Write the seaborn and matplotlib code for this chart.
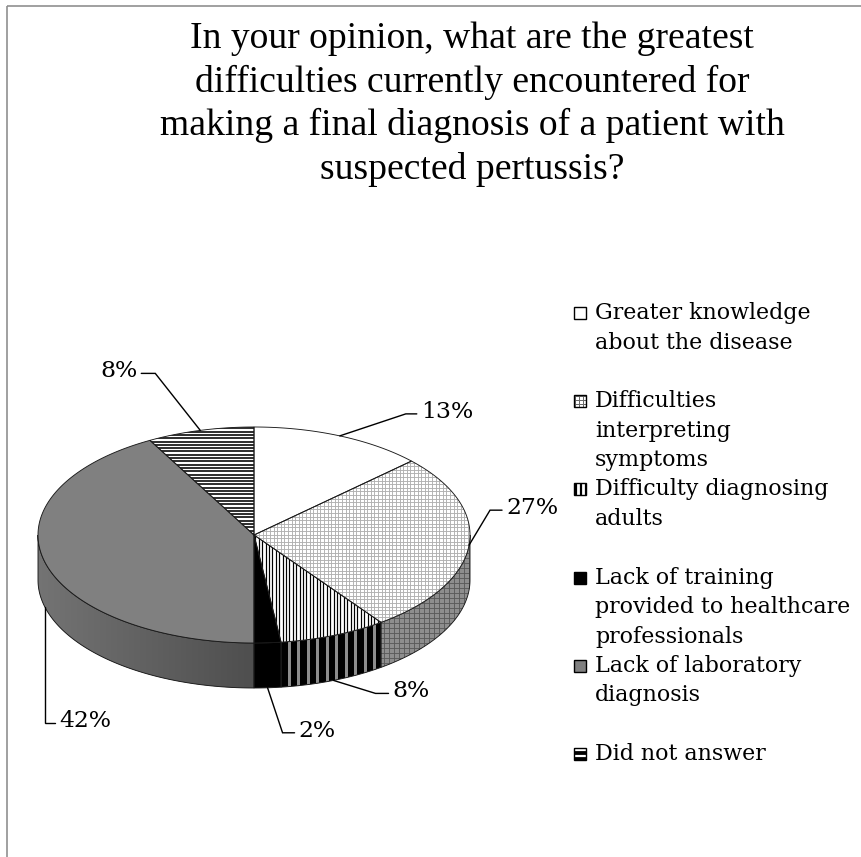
import numpy as np
import matplotlib
matplotlib.use("Agg")
import matplotlib.pyplot as plt
import seaborn as sns
from matplotlib.patches import Polygon, Rectangle
from matplotlib.collections import LineCollection
from matplotlib.colors import LinearSegmentedColormap

# ---------------- data ----------------
title_lines = ["In your opinion, what are the greatest",
               "difficulties currently encountered for",
               "making a final diagnosis of a patient with",
               "suspected pertussis?"]
categories = ["Greater knowledge about the disease",
              "Difficulties interpreting symptoms",
              "Difficulty diagnosing adults",
              "Lack of training provided to healthcare professionals",
              "Lack of laboratory diagnosis",
              "Did not answer"]
legend_lines = [["Greater knowledge", "about the disease"],
                ["Difficulties", "interpreting", "symptoms"],
                ["Difficulty diagnosing", "adults"],
                ["Lack of training", "provided to healthcare", "professionals"],
                ["Lack of laboratory", "diagnosis"],
                ["Did not answer"]]
shares = [13, 27, 8, 2, 42, 8]
pct_labels = [f"{v}%" for v in shares]

# ---------------- styles ----------------
# (kind, base colour, line colour, spacing px, line width px)
top_style = [("solid", "#ffffff", None, 0, 0),
             ("grid", "#ffffff", "#b0b0b0", 3.6, 0.9),
             ("v", "#ffffff", "#000000", 3.4, 1.2),
             ("solid", "#000000", None, 0, 0),
             ("solid", "#808080", None, 0, 0),
             ("h", "#ffffff", "#000000", 3.3, 1.6)]
side_style = [("solid", "#ffffff", None, 0, 0),
              ("grid", "#8e8e8e", "#5a5a5a", 5.0, 0.9),
              ("v", "#000000", "#8c8c8c", 9.5, 3.0),
              ("solid", "#000000", None, 0, 0),
              ("grad", "#747474", "#4e4e4e", 0, 0),
              ("h", "#ffffff", "#000000", 3.3, 1.6)]
legend_style = [("solid", "#ffffff", None, 0, 0),
                ("grid", "#ffffff", "#6a6a6a", 4.0, 1.0),
                ("v", "#ffffff", "#000000", 5.0, 2.2),
                ("solid", "#000000", None, 0, 0),
                ("solid", "#808080", None, 0, 0),
                ("h", "#000000", "#ffffff", 6.0, 2.2)]

# leader layout: anchor on top edge / bottom of side, elbow offset, horizontal run
leader_layout = [("top", 66, -22, 11),
                 ("top", 21, -35, 12),
                 ("bottom", 42, 13, 13),
                 ("bottom", 15, 45, 12),
                 ("bottom", 0, 116, 10),
                 ("top", -45, -57, -14)]

sns.set_theme(style="white")
plt.rcParams['font.family'] = ['DejaVu Serif', 'DejaVu Sans']

W, H, DPI = 861, 857, 100
PX = 72.0 / DPI
fig = plt.figure(figsize=(W / DPI, H / DPI), dpi=DPI)
ax = fig.add_axes([0, 0, 1, 1])
ax.set_xlim(0, W)
ax.set_ylim(H, 0)
ax.axis('off')

# chart frame (left and top visible)
ax.plot([6.5, 6.5], [5.5, H], color="#8c8c8c", lw=1.6 * PX, solid_capstyle='butt')
ax.plot([6.5, W], [5.5, 5.5], color="#8c8c8c", lw=1.6 * PX, solid_capstyle='butt')

# pie geometry
cx, cy, rx, ry, depth = 254.0, 535.0, 216.0, 108.0, 45.0


def arc(a0, a1, dz=0.0):
    n = max(2, int(abs(a1 - a0) * 1.5) + 2)
    t = np.radians(np.linspace(a0, a1, n))
    return np.column_stack([cx + rx * np.cos(t), cy - ry * np.sin(t) + dz])


def texture(patch, style, z):
    kind, base, line, sp, lw = style
    ext = patch.get_path().vertices
    if isinstance(patch, Rectangle):
        x0, y0 = patch.get_x(), patch.get_y()
        x1, y1 = x0 + patch.get_width(), y0 + patch.get_height()
        x0, y0 = x0 + sp / 2 - 1, y0 + sp / 2 - 1
    else:
        x0, y0 = ext.min(axis=0) - 2
        x1, y1 = ext.max(axis=0) + 2
    if kind == "grad":
        cmap = LinearSegmentedColormap.from_list("g", [base, line])
        im = ax.imshow(np.linspace(0, 1, 256)[None, :], extent=(x0, x1, y1, y0),
                       cmap=cmap, aspect='auto', zorder=z, interpolation='bilinear')
        im.set_clip_path(patch)
        return
    segs = []
    if kind in ("v", "grid"):
        for x in np.arange(x0, x1, sp):
            segs.append([(x, y0 - 5), (x, y1 + 5)])
    if kind in ("h", "grid"):
        for y in np.arange(y0, y1, sp):
            segs.append([(x0 - 5, y), (x1 + 5, y)])
    if segs:
        lc = LineCollection(segs, colors=line, linewidths=lw * PX, zorder=z)
        ax.add_collection(lc)
        lc.set_clip_path(patch)


total = float(sum(shares))
cum = np.concatenate([[0.0], np.cumsum(shares)]) / total
edge_kw = dict(edgecolor="#1a1a1a", linewidth=0.9 * PX)

# side faces (front half only)
for i in range(len(shares)):
    a0 = 90 - 360 * cum[i]
    a1 = 90 - 360 * cum[i + 1]
    hi, lo = min(a0, 0.0), max(a1, -180.0)
    if hi <= lo:
        continue
    topa = arc(hi, lo)
    bot = arc(lo, hi, depth)
    pts = np.vstack([topa, bot])
    st = side_style[i]
    fill = Polygon(pts, closed=True, facecolor=st[1], edgecolor='none', zorder=1)
    ax.add_patch(fill)
    texture(fill, st, 1.5)
    ax.add_patch(Polygon(pts, closed=True, facecolor='none', zorder=2, **edge_kw))

# top faces
for i in range(len(shares)):
    a0 = 90 - 360 * cum[i]
    a1 = 90 - 360 * cum[i + 1]
    pts = np.vstack([[[cx, cy]], arc(a0, a1)])
    st = top_style[i]
    fill = Polygon(pts, closed=True, facecolor=st[1], edgecolor='none', zorder=3)
    ax.add_patch(fill)
    if st[0] != "solid":
        texture(fill, st, 3.5)
    ax.add_patch(Polygon(pts, closed=True, facecolor='none', zorder=4, **edge_kw))

# ---------------- text ----------------
fig.canvas.draw()
renderer = fig.canvas.get_renderer()


def fitted_size(s, target, family, base=20):
    t = ax.text(0, 0, s, fontsize=base, family=family)
    w = t.get_window_extent(renderer).width
    t.remove()
    return base * target / w


title_fs = fitted_size(title_lines[0], 563, ['Liberation Serif', 'DejaVu Serif'])
leg_fs = fitted_size("provided to healthcare", 255, ['DejaVu Serif'])
pct_fs = fitted_size("13%", 52, ['DejaVu Serif'])

for k, line in enumerate(title_lines):
    ax.text(472, 48 + 43.5 * k, line, fontsize=title_fs, ha='center', va='baseline',
            family=['Liberation Serif', 'DejaVu Serif'], color='black')

# legend
for i, lines in enumerate(legend_lines):
    base_y = 319 + 88.2 * i
    sq = Rectangle((574, base_y - 12), 12, 12, facecolor=legend_style[i][1],
                   edgecolor='none', zorder=5)
    ax.add_patch(sq)
    if legend_style[i][0] != "solid":
        texture(sq, legend_style[i], 5.5)
    ax.add_patch(Rectangle((574, base_y - 12), 12, 12, facecolor='none',
                           edgecolor='black', linewidth=1.4 * PX, zorder=6))
    for j, ln in enumerate(lines):
        ax.text(595, base_y + 29.5 * j, ln, fontsize=leg_fs, ha='left', va='baseline',
                color='black')

# percentage labels with leader lines
for i, lab in enumerate(pct_labels):
    kind, dx, dy, run = leader_layout[i]
    m = 90 - 360 * (cum[i] + cum[i + 1]) / 2
    ax_, ay_ = arc(m, m)[0]
    if kind == "bottom":
        ay_ += depth
    ex, ey = ax_ + dx, ay_ + dy
    fx = ex + run
    ax.plot([ax_, ex, fx], [ay_, ey, ey], color='black', lw=1.4 * PX, zorder=7,
            solid_joinstyle='miter')
    if run >= 0:
        ax.text(fx + 4, ey + 4, lab, fontsize=pct_fs, ha='left', va='baseline', color='black')
    else:
        ax.text(fx - 4, ey + 4, lab, fontsize=pct_fs, ha='right', va='baseline', color='black')

fig.savefig("out.png", dpi=DPI, facecolor='white')
